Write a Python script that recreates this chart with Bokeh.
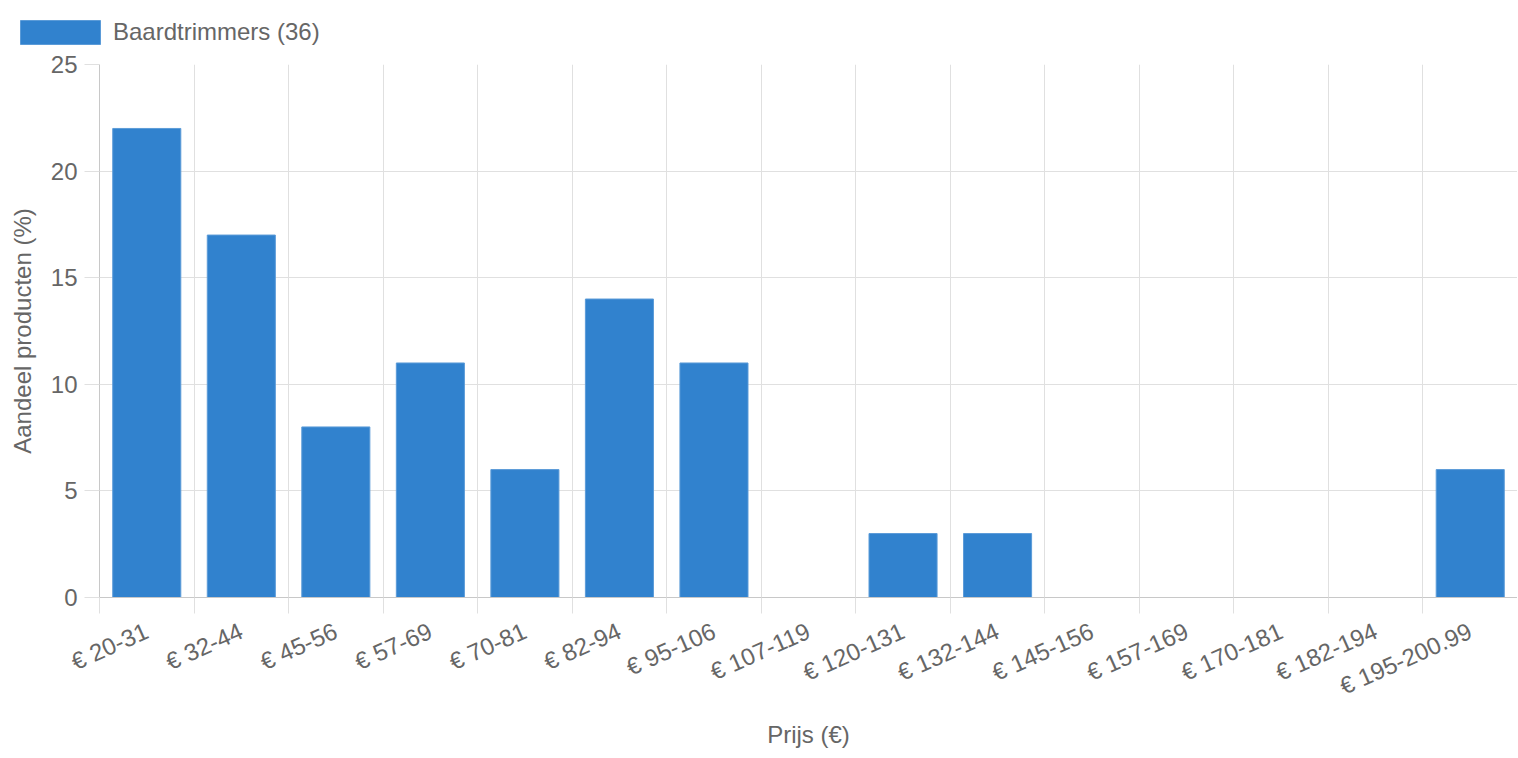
from bokeh.plotting import figure
from bokeh.models import FixedTicker, Range1d, Legend, LegendItem, ColumnDataSource
from bokeh.embed import file_html
from bokeh.resources import INLINE

categories = ["€ 20-31", "€ 32-44", "€ 45-56", "€ 57-69", "€ 70-81", "€ 82-94",
              "€ 95-106", "€ 107-119", "€ 120-131", "€ 132-144", "€ 145-156",
              "€ 157-169", "€ 170-181", "€ 182-194", "€ 195-200.99"]
shares = [22, 17, 8, 11, 6, 14, 11, 0, 3, 3, 0, 0, 0, 0, 6]
y_ticks = [0, 5, 10, 15, 20, 25]
series_name = "Baardtrimmers (36)"
x_title = "Prijs (€)"
y_title = "Aandeel producten (%)"

FONT = "Liberation Sans"
TXT = "#666666"
GRID = "#e0e0e0"
AXIS = "#c8c8c8"
BAR = "#3182CE"
BAR_EDGE = "#5b9bd8"

n = len(categories)
centers = [i + 0.5 for i in range(n)]
bounds = list(range(n + 1))

# ---- header with legend ----
head = figure(width=1517, height=48, output_backend="svg", toolbar_location=None,
              x_range=Range1d(0, 1), y_range=Range1d(0, 1),
              x_axis_location=None, y_axis_location=None,
              min_border_left=0, min_border_right=0, min_border_top=0,
              min_border_bottom=0)
head.outline_line_color = None
head.grid.visible = False
# legend swatch renderer: one bar placed outside the visible range
dummy = head.vbar(x=[-10], top=[-5], width=0.5, fill_color=BAR,
                  line_color=BAR_EDGE, line_width=1)
legend = Legend(items=[LegendItem(label=series_name, renderers=[dummy])],
                location=(10, 1), orientation="horizontal",
                glyph_width=100, glyph_height=30, label_height=24,
                label_standoff=3, padding=0, margin=0, spacing=0,
                border_line_color=None, background_fill_alpha=0,
                label_text_font=FONT, label_text_font_size="24px",
                label_text_color=TXT)
head.add_layout(legend, "center")

# ---- main chart ----
src = ColumnDataSource(dict(x=centers, top=shares, label=categories))

p = figure(width=1517, height=702, output_backend="svg", toolbar_location=None,
           x_range=Range1d(0, n), y_range=Range1d(0, 25),
           min_border_left=99, min_border_top=16, min_border_right=0,
           min_border_bottom=153)
p.outline_line_color = None

r = p.vbar(x="x", top="top", width=0.72, source=src,
           fill_color=BAR, line_color=BAR_EDGE, line_width=1)

# x axis
p.xaxis.ticker = FixedTicker(ticks=centers, minor_ticks=bounds)
p.xaxis.major_label_overrides = {c: lab for c, lab in zip(centers, categories)}
p.xaxis.major_tick_out = 16
p.xaxis.major_tick_in = 0
p.xaxis.major_tick_line_color = None
p.xaxis.minor_tick_out = 16
p.xaxis.minor_tick_in = 0
p.xaxis.minor_tick_line_color = GRID
p.xaxis.major_label_orientation = 0.42
p.xaxis.major_label_standoff = 16
p.xaxis.axis_line_color = AXIS
p.xaxis.axis_label = x_title
p.xaxis.axis_label_standoff = 6

# y axis
p.yaxis.ticker = FixedTicker(ticks=y_ticks)
p.yaxis.major_tick_out = 15
p.yaxis.major_tick_in = 0
p.yaxis.major_tick_line_color = GRID
p.yaxis.minor_tick_line_color = None
p.yaxis.major_label_standoff = 7
p.yaxis.axis_line_color = AXIS
p.yaxis.axis_label = y_title
p.yaxis.axis_label_standoff = 12

for ax in (p.xaxis, p.yaxis):
    ax.major_label_text_font = FONT
    ax.major_label_text_font_size = "24px"
    ax.major_label_text_color = TXT
    ax.axis_label_text_font = FONT
    ax.axis_label_text_font_size = "24px"
    ax.axis_label_text_font_style = "normal"
    ax.axis_label_text_color = TXT

p.xgrid.ticker = FixedTicker(ticks=bounds)
p.xgrid.grid_line_color = GRID
p.ygrid.grid_line_color = GRID

open("out.html", "w").write(file_html([head, p], INLINE))
